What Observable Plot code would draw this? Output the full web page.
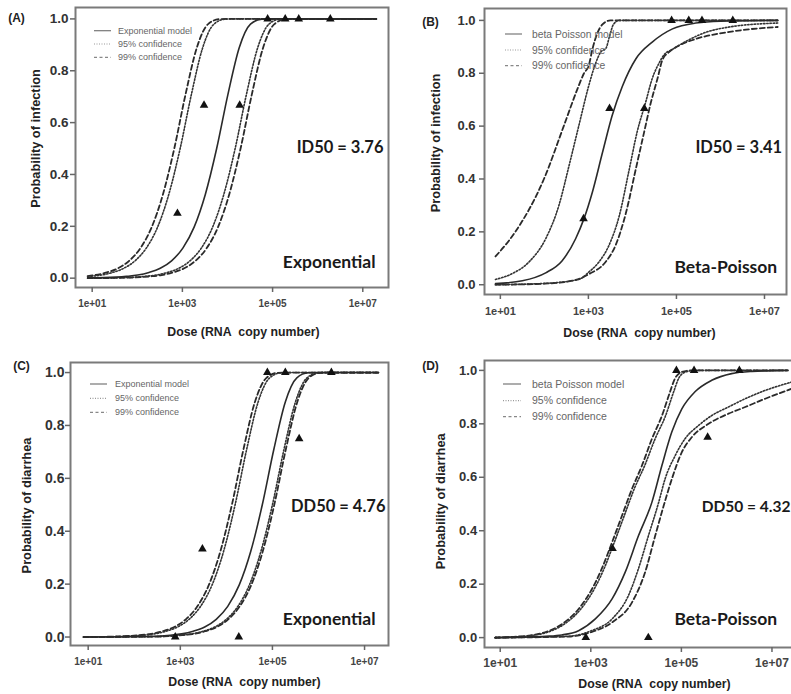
<!DOCTYPE html>
<html><head><meta charset="utf-8">
<script src="https://cdn.jsdelivr.net/npm/d3@7"></script>
<script src="https://cdn.jsdelivr.net/npm/@observablehq/plot@0.6"></script>
<style>
html,body{margin:0;padding:0;background:#fff;overflow:hidden;}
#fig{position:relative;width:791px;height:694px;overflow:hidden;background:#fff;}
#fig > svg{position:absolute;}
</style></head><body><div id="fig"></div>
<script>
// ---------------- data ----------------
const doseTicks = [1e1, 1e3, 1e5, 1e7];
const doseTickLabels = ["1e+01", "1e+03", "1e+05", "1e+07"];
const probTicks = [0, 0.2, 0.4, 0.6, 0.8, 1.0];
const probTickLabels = ["0.0", "0.2", "0.4", "0.6", "0.8", "1.0"];

const panelTags = ["(A)", "(B)", "(C)", "(D)"];
const yTitles = ["Probability of infection", "Probability of infection", "Probability of diarrhea", "Probability of diarrhea"];
const xTitle = "Dose (RNA\u00a0 copy number)";
const modelNames = ["Exponential", "Beta-Poisson", "Exponential", "Beta-Poisson"];
const medianLabels = ["ID50 = 3.76", "ID50 = 3.41", "DD50 = 4.76", "DD50 = 4.32"];
const legendExp = ["Exponential model", "95% confidence", "99% confidence"];
const legendBP = ["beta Poisson model", "95% confidence", "99% confidence"];

// observed points: log10 dose, proportion
const obsLogDose = [2.89, 3.48, 4.27, 4.89, 5.28, 5.58, 6.28];
const obsInfection = [0.25, 0.667, 0.667, 1, 1, 1, 1];
const obsDiarrhea = [0, 0.333, 0, 1, 1, 0.75, 1];

// curves: [log10 dose, probability]
// (A) infection, exponential
const A_model = [[0.9,0.001],[1.26,0.002],[1.76,0.007],[2.01,0.012],[2.26,0.022],[2.51,0.038],[2.76,0.067],[3.01,0.116],[3.26,0.197],[3.51,0.324],[3.76,0.5],[4.01,0.709],[4.26,0.889],[4.51,0.98],[4.76,0.999],[5.01,1],[7.3,1]];
const A_ci95_low = [[0.9,0.006],[1.2,0.012],[1.45,0.022],[1.7,0.038],[1.95,0.067],[2.2,0.116],[2.45,0.197],[2.7,0.324],[2.95,0.5],[3.2,0.709],[3.45,0.889],[3.7,0.98],[3.95,0.999],[4.2,1],[7.3,1]];
const A_ci95_high = [[0.9,0],[1.67,0.002],[2.17,0.007],[2.42,0.012],[2.67,0.022],[2.92,0.038],[3.17,0.067],[3.42,0.116],[3.67,0.197],[3.92,0.324],[4.17,0.5],[4.42,0.709],[4.67,0.889],[4.92,0.98],[5.17,0.999],[5.42,1],[7.3,1]];
const A_ci99_low = [[0.9,0.008],[1.07,0.012],[1.32,0.022],[1.57,0.038],[1.82,0.067],[2.07,0.116],[2.32,0.197],[2.57,0.324],[2.82,0.5],[3.07,0.709],[3.32,0.889],[3.57,0.98],[3.82,0.999],[4.07,1],[7.3,1]];
const A_ci99_high = [[0.9,0],[1.79,0.002],[2.29,0.007],[2.54,0.012],[2.79,0.022],[3.04,0.038],[3.29,0.067],[3.54,0.116],[3.79,0.197],[4.04,0.324],[4.29,0.5],[4.54,0.709],[4.79,0.889],[5.04,0.98],[5.29,0.999],[5.54,1],[7.3,1]];

// (B) infection, beta-Poisson
const B_model = [[0.89,0.004],[1.5,0.015],[2.03,0.045],[2.4,0.09],[2.71,0.174],[2.9,0.25],[3.09,0.35],[3.32,0.5],[3.54,0.64],[3.77,0.75],[4.08,0.855],[4.45,0.918],[4.91,0.968],[5.44,0.99],[6.0,0.997],[7.3,1]];
const B_ci95_low = [[0.89,0.02],[1.27,0.042],[1.65,0.086],[2.03,0.174],[2.33,0.3],[2.56,0.45],[2.78,0.6],[3.01,0.754],[3.16,0.836],[3.28,0.88],[3.4,0.895],[3.48,0.94],[3.57,0.985],[3.7,1],[7.3,1]];
const B_ci95_high = [[0.89,0],[2.0,0.005],[2.78,0.02],[3.01,0.048],[3.24,0.086],[3.47,0.15],[3.7,0.26],[3.92,0.43],[4.11,0.58],[4.3,0.69],[4.45,0.78],[4.61,0.84],[4.72,0.87],[4.91,0.89],[5.21,0.92],[5.67,0.955],[6.2,0.975],[7.3,0.99]];
const B_ci99_low = [[0.89,0.107],[1.34,0.2],[1.99,0.4],[2.44,0.6],[2.75,0.74],[2.9,0.8],[3.01,0.83],[3.09,0.89],[3.2,0.95],[3.32,0.985],[3.5,1],[7.3,1]];
const B_ci99_high = [[0.89,0],[2.0,0.004],[2.71,0.018],[3.01,0.04],[3.39,0.086],[3.62,0.15],[3.85,0.27],[4.08,0.44],[4.27,0.58],[4.42,0.69],[4.57,0.78],[4.68,0.85],[4.83,0.88],[5.06,0.905],[5.44,0.93],[5.97,0.95],[6.58,0.965],[7.3,0.975]];

// (C) diarrhea, exponential
const C_model = [[0.9,0],[2.28,0.002],[2.78,0.007],[3.03,0.012],[3.28,0.022],[3.53,0.038],[3.78,0.067],[4.03,0.116],[4.28,0.197],[4.53,0.324],[4.78,0.5],[5.03,0.709],[5.28,0.889],[5.53,0.98],[5.78,0.999],[6.03,1],[7.3,1]];
const C_ci95_low = [[0.9,0],[1.69,0.002],[2.19,0.007],[2.44,0.012],[2.69,0.022],[2.94,0.038],[3.19,0.067],[3.44,0.116],[3.69,0.197],[3.94,0.324],[4.19,0.5],[4.44,0.709],[4.69,0.889],[4.94,0.98],[5.19,0.999],[5.44,1],[7.3,1]];
const C_ci95_high = [[0.9,0],[2.5,0.002],[3.0,0.007],[3.25,0.012],[3.5,0.022],[3.75,0.038],[4.0,0.067],[4.25,0.116],[4.5,0.197],[4.75,0.324],[5.0,0.5],[5.25,0.709],[5.5,0.889],[5.75,0.98],[6.0,0.999],[6.25,1],[7.3,1]];
const C_ci99_low = [[0.9,0],[1.62,0.002],[2.12,0.007],[2.37,0.012],[2.62,0.022],[2.87,0.038],[3.12,0.067],[3.37,0.116],[3.62,0.197],[3.87,0.324],[4.12,0.5],[4.37,0.709],[4.62,0.889],[4.87,0.98],[5.12,0.999],[5.37,1],[7.3,1]];
const C_ci99_high = [[0.9,0],[2.54,0.002],[3.04,0.007],[3.29,0.012],[3.54,0.022],[3.79,0.038],[4.04,0.067],[4.29,0.116],[4.54,0.197],[4.79,0.324],[5.04,0.5],[5.29,0.709],[5.54,0.889],[5.79,0.98],[6.04,0.999],[6.29,1],[7.3,1]];

// (D) diarrhea, beta-Poisson
const D_model = [[0.89,0],[1.5,0.002],[2.0,0.005],[2.36,0.01],[2.73,0.026],[3.1,0.07],[3.47,0.145],[3.76,0.245],[4.05,0.38],[4.35,0.507],[4.57,0.644],[4.79,0.77],[5.01,0.856],[5.3,0.92],[5.67,0.963],[6.11,0.988],[6.56,0.996],[7.35,1]];
const D_ci95_low = [[0.89,0],[1.35,0.003],[1.68,0.0075],[2.04,0.02],[2.41,0.05],[2.78,0.107],[3.07,0.18],[3.29,0.257],[3.52,0.357],[3.74,0.457],[3.96,0.557],[4.19,0.644],[4.42,0.744],[4.65,0.83],[4.83,0.92],[4.94,0.97],[5.09,0.994],[5.3,1],[7.35,1]];
const D_ci95_high = [[0.89,0],[2.5,0.005],[3.0,0.025],[3.47,0.07],[3.83,0.157],[4.05,0.257],[4.27,0.38],[4.5,0.507],[4.64,0.594],[4.86,0.68],[5.08,0.744],[5.38,0.794],[5.67,0.831],[6.04,0.863],[6.41,0.894],[6.85,0.925],[7.43,0.956]];
const D_ci99_low = [[0.89,0],[1.3,0.003],[1.63,0.0075],[1.99,0.02],[2.36,0.05],[2.73,0.107],[3.02,0.18],[3.24,0.257],[3.47,0.357],[3.69,0.457],[3.91,0.557],[4.13,0.644],[4.35,0.744],[4.57,0.83],[4.75,0.92],[4.86,0.97],[5.01,0.994],[5.23,1],[7.35,1]];
const D_ci99_high = [[0.89,0],[2.5,0.004],[3.0,0.02],[3.47,0.057],[3.91,0.132],[4.2,0.245],[4.42,0.38],[4.61,0.494],[4.79,0.594],[5.01,0.694],[5.23,0.75],[5.6,0.8],[6.04,0.838],[6.41,0.863],[6.85,0.894],[7.43,0.931]];

// ---------------- layout ----------------
const layouts = [
  {left:0, top:0, width:395, height:340, mL:75, mR:7, mT:7, mB:53, xlog:[0.63,7.57], y:[-0.036,1.044],
   xFont:10, xPad:7, yFont:13.5, yPad:2, tag:[16,18], yT:[35,138], xT:[243,332], med:[383,147,"end"], medFs:16.5, name:[375,262]},
  {left:395, top:0, width:396, height:340, mL:89, mR:5, mT:8, mB:46, xlog:[0.64,7.50], y:[-0.037,1.045],
   xFont:11, xPad:7.5, yFont:13, yPad:4, tag:[35,22], yT:[40.5,142.5], xT:[244,333], med:[386.7,147,"end"], medFs:16.5, name:[381.7,267]},
  {left:0, top:340, width:395, height:354, mL:70, mR:7, mT:22, mB:49, xlog:[0.616,7.52], y:[-0.032,1.038],
   xFont:10, xPad:7, yFont:14, yPad:1, tag:[21,26], yT:[26.7,165], xT:[244,341.7], med:[385,166.7,"end"], medFs:16.5, name:[375,279.3]},
  {left:395, top:340, width:396, height:354, mL:89, mR:-9, mT:20, mB:47, xlog:[0.653,7.63], y:[-0.037,1.037],
   xFont:12, xPad:5.5, yFont:13, yPad:2.3, tag:[35,25.8], yT:[45,160.8], xT:[259,343.3], med:[395,166.7,"end"], medFs:15.5, name:[381.7,279.3]}
];
const curveSets = [
  [A_model, A_ci95_low, A_ci95_high, A_ci99_low, A_ci99_high],
  [B_model, B_ci95_low, B_ci95_high, B_ci99_low, B_ci99_high],
  [C_model, C_ci95_low, C_ci95_high, C_ci99_low, C_ci99_high],
  [D_model, D_ci95_low, D_ci95_high, D_ci99_low, D_ci99_high]
];
const obsSets = [obsInfection, obsInfection, obsDiarrhea, obsDiarrhea];

const legendLayouts = [
  {x0:94, x1:111, tx:118, rows:[30.7,44,57.3], fs:9, labels:legendExp},
  {x0:505, x1:522, tx:532, rows:[34,50,65.7], fs:10.3, labels:legendBP},
  {x0:90, x1:107, tx:115, rows:[384,398.3,412.3], fs:9, labels:legendExp},
  {x0:503, x1:521, tx:532, rows:[384,400.7,416.7], fs:10.5, labels:legendBP}
];

const solidStyle = {stroke:"#2a2a2a", strokeWidth:1.6};
const dottedStyle = {stroke:"#333", strokeWidth:1.6, strokeDasharray:"1.4,1.8"};
const dashedStyle = {stroke:"#2a2a2a", strokeWidth:1.8, strokeDasharray:"5,3"};
const frameColor = "#7a7a7a";
const sans = "'Liberation Sans', Arial, sans-serif";

const fig = document.getElementById("fig");

layouts.forEach((L, k) => {
  const at = (sx, sy, anchor = "middle") => ({frameAnchor:"top-left", dx: sx - L.mL, dy: sy - L.mT, textAnchor: anchor, lineAnchor:"middle"});
  const [model, c95lo, c95hi, c99lo, c99hi] = curveSets[k];
  const line = (pts, style) => Plot.line(pts, {x: d => 10 ** d[0], y: d => d[1], curve:"monotone-x", ...style});
  const obs = obsLogDose.map((v, i) => ({dose: 10 ** v, p: obsSets[k][i]}));
  const xDom = [10 ** L.xlog[0], 10 ** L.xlog[1]];
  const chart = Plot.plot({
    width: L.width, height: L.height,
    marginLeft: L.mL, marginRight: L.mR, marginTop: L.mT, marginBottom: L.mB,
    x: {type:"log", domain: xDom},
    y: {domain: L.y},
    style: {fontFamily: sans, background:"transparent"},
    marks: [
      Plot.frame({stroke:frameColor, strokeWidth:2}),
      Plot.axisY({ticks: probTicks, tickFormat: d => probTickLabels[probTicks.indexOf(d)],
        tickSize:5, tickPadding:L.yPad, fontSize:L.yFont, fontWeight:"bold", fill:"#333", stroke:"#666", strokeWidth:1.5, label:null}),
      Plot.axisX({ticks: doseTicks, tickFormat: d => doseTickLabels[doseTicks.indexOf(d)],
        tickSize:5, tickPadding:L.xPad, fontSize:L.xFont, fontWeight:"bold", fill:"#444", stroke:"#666", strokeWidth:1.5, label:null}),
      line(c99lo, dashedStyle),
      line(c99hi, dashedStyle),
      line(c95lo, dottedStyle),
      line(c95hi, dottedStyle),
      line(model, solidStyle),
      Plot.dot(obs, {x:"dose", y:"p", symbol:"triangle", r:3.2, fill:"#111", stroke:"none"}),
      Plot.text([panelTags[k]], {text: d => d, ...at(L.tag[0], L.tag[1]), fontSize:12, fontWeight:"bold", fill:"#222"}),
      Plot.text([yTitles[k]], {text: d => d, ...at(L.yT[0], L.yT[1]), rotate:-90, fontSize:12.8, fontWeight:"bold", fill:"#222"}),
      Plot.text([xTitle], {text: d => d, ...at(L.xT[0], L.xT[1]), fontSize:12.3, fontWeight:"bold", fill:"#222"}),
      Plot.text([medianLabels[k]], {text: d => d, ...at(L.med[0], L.med[1], L.med[2]), fontFamily:"Lato", fontSize:L.medFs, fontWeight:"bold", fill:"#1a1a1a"}),
      Plot.text([modelNames[k]], {text: d => d, ...at(L.name[0], L.name[1], "end"), fontFamily:"Lato", fontSize:17.5, fontWeight:"bold", fill:"#1a1a1a"})
    ]
  });
  chart.style.left = L.left + "px";
  chart.style.top = L.top + "px";
  fig.appendChild(chart);
});

// legends (overlay)
const overlay = d3.create("svg").attr("width", 791).attr("height", 694)
  .style("position", "absolute").style("left", "0px").style("top", "0px").style("pointer-events", "none");
const legendStyles = [
  {stroke:"#777", width:1.2, dash:null},
  {stroke:"#999", width:1.2, dash:"1,1.5"},
  {stroke:"#888", width:1.2, dash:"3,2.5"}
];
legendLayouts.forEach(G => {
  G.rows.forEach((yy, i) => {
    const s = legendStyles[i];
    const ln = overlay.append("line").attr("x1", G.x0).attr("x2", G.x1).attr("y1", yy).attr("y2", yy)
      .attr("stroke", s.stroke).attr("stroke-width", s.width);
    if (s.dash) ln.attr("stroke-dasharray", s.dash);
    overlay.append("text").attr("x", G.tx).attr("y", yy).attr("dy", "0.35em")
      .attr("font-family", sans).attr("font-size", G.fs).attr("fill", "#666").text(G.labels[i]);
  });
});
fig.appendChild(overlay.node());
</script></body></html>
